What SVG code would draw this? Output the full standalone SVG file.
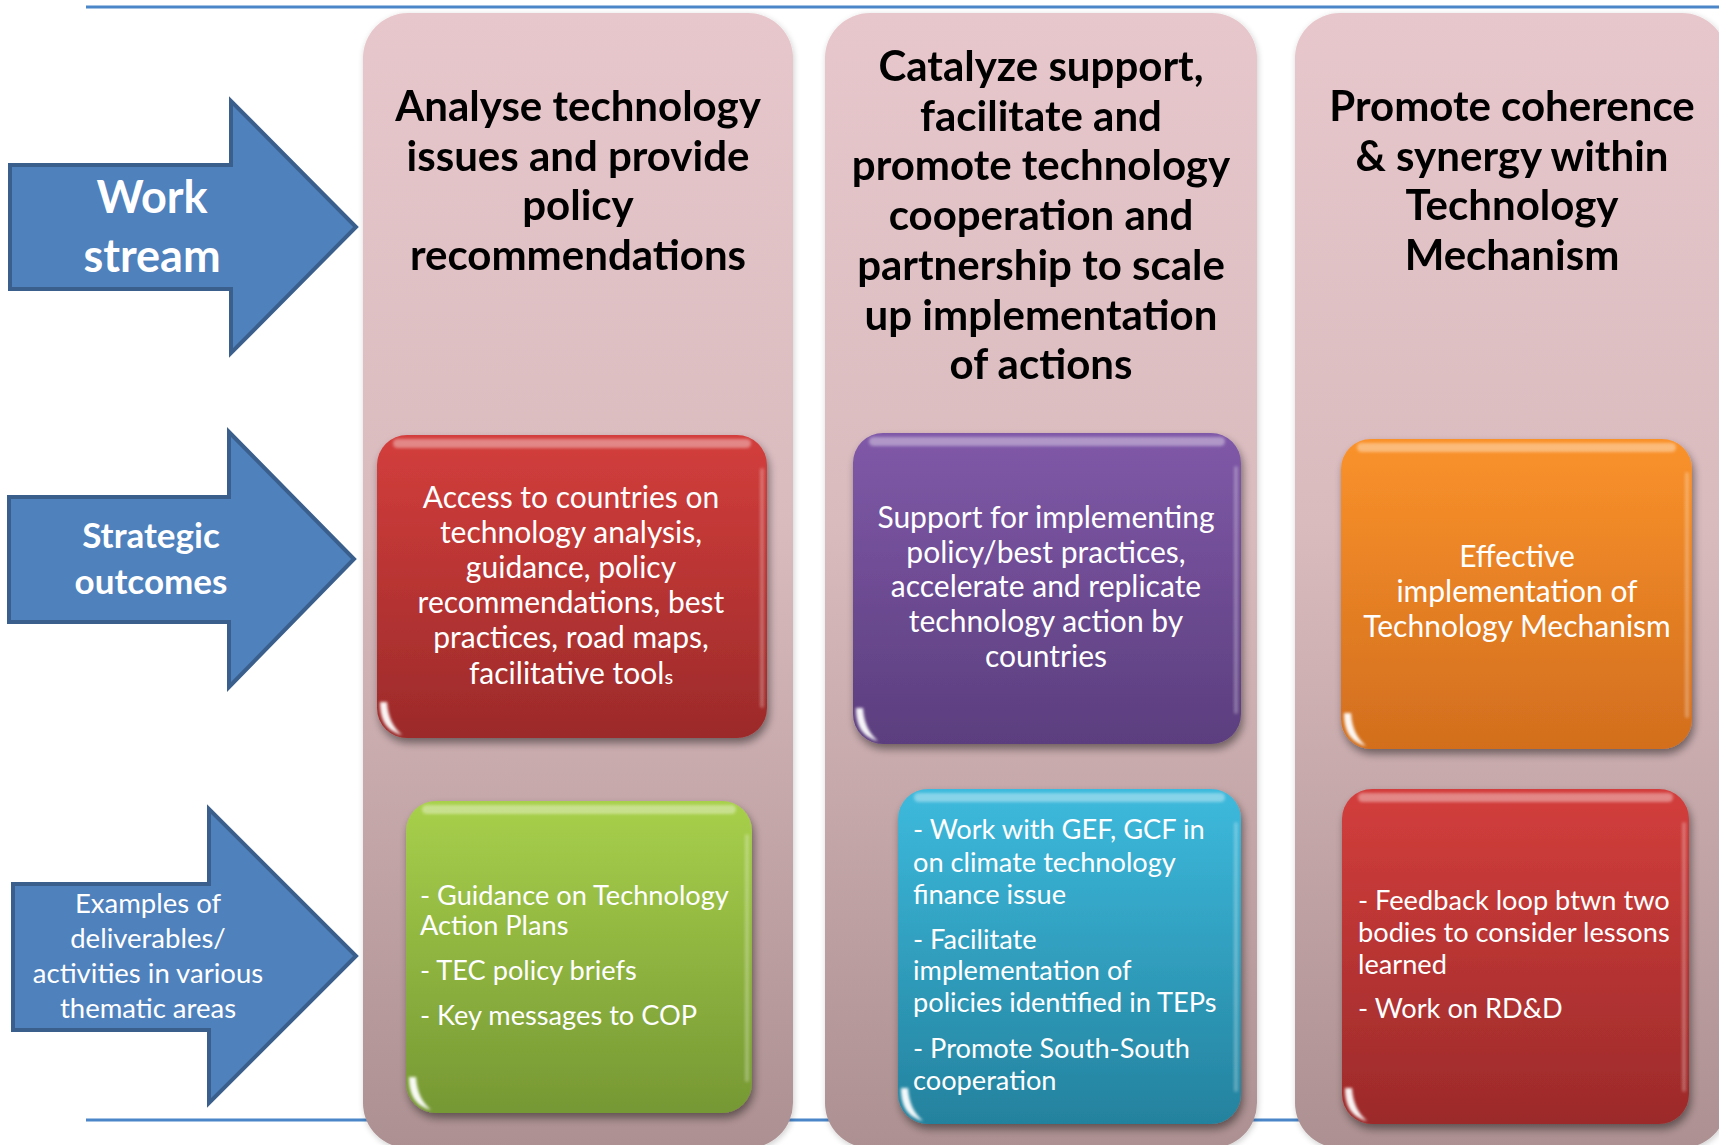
<svg xmlns="http://www.w3.org/2000/svg" xmlns:xlink="http://www.w3.org/1999/xlink" width="1719" height="1145" viewBox="0 0 1719 1145">
<style>
.hd{font-family:Lato,"Liberation Sans",sans-serif;font-weight:700;font-size:42px;fill:#000;text-anchor:middle}
.ar{font-family:Lato,"Liberation Sans",sans-serif;fill:#fff;text-anchor:middle}
.bx{font-family:Lato,"Liberation Sans",sans-serif;fill:#fff;font-size:30px}
.sm{font-size:27.2px}
.c{text-anchor:middle}
.arrow{fill:#4f81bd;stroke:#3a5f8c;stroke-width:4}
.col{fill:url(#colG)}
.gl{fill:#fff;opacity:0.95;filter:url(#bl)}
.tb{fill:#fff;opacity:0.38;filter:url(#bl)}
.re{fill:#fff;opacity:0.28;filter:url(#bl)}
.rule{stroke:#4a86c8;stroke-width:3}
</style>
<defs>
<linearGradient id="colG" x1="0" y1="0" x2="0" y2="1">
<stop offset="0" stop-color="#e7c7cb"/>
<stop offset="0.45" stop-color="#d9bbbe"/>
<stop offset="1" stop-color="#ad9091"/>
</linearGradient>
<linearGradient id="redG" x1="0" y1="0" x2="0" y2="1"><stop offset="0" stop-color="#d33e3c"/><stop offset="1" stop-color="#9c2a2a"/></linearGradient>
<linearGradient id="purG" x1="0" y1="0" x2="0" y2="1"><stop offset="0" stop-color="#8059a8"/><stop offset="1" stop-color="#5b3e7e"/></linearGradient>
<linearGradient id="oraG" x1="0" y1="0" x2="0" y2="1"><stop offset="0" stop-color="#fa922b"/><stop offset="1" stop-color="#d26e1e"/></linearGradient>
<linearGradient id="grnG" x1="0" y1="0" x2="0" y2="1"><stop offset="0" stop-color="#a8d04b"/><stop offset="1" stop-color="#769834"/></linearGradient>
<linearGradient id="cyaG" x1="0" y1="0" x2="0" y2="1"><stop offset="0" stop-color="#3dbadd"/><stop offset="1" stop-color="#24829e"/></linearGradient>
<filter id="sh" x="-10%" y="-10%" width="125%" height="125%">
<feGaussianBlur in="SourceAlpha" stdDeviation="4"/>
<feOffset dx="2" dy="5" result="b"/>
<feComponentTransfer><feFuncA type="linear" slope="0.45"/></feComponentTransfer>
<feMerge><feMergeNode/><feMergeNode in="SourceGraphic"/></feMerge>
</filter>
<filter id="csh" x="-5%" y="-5%" width="110%" height="110%">
<feGaussianBlur in="SourceAlpha" stdDeviation="3"/>
<feOffset dx="1" dy="2"/>
<feComponentTransfer><feFuncA type="linear" slope="0.2"/></feComponentTransfer>
<feMerge><feMergeNode/><feMergeNode in="SourceGraphic"/></feMerge>
</filter>
<filter id="bl" x="-50%" y="-50%" width="200%" height="200%"><feGaussianBlur stdDeviation="1.4"/></filter>
<path id="cres" d="M3,-36 C3,-17 10,-7 25,-3 C16,-11 11,-20 10,-36 Z"/>
</defs>

<g id="rules">
<line class="rule" x1="86" y1="7" x2="1719" y2="7"/>
<line class="rule" x1="86" y1="1120" x2="1719" y2="1120"/>
</g>

<g id="arrow-work-stream">
<path class="arrow" d="M10,165 H231 V101 L356,227 L231,353 V289 H10 Z"/>
<text class="ar" font-weight="700" font-size="45"><tspan x="152" y="213">Work</tspan><tspan x="152" y="272">stream</tspan></text>
</g>
<g id="arrow-strategic-outcomes">
<path class="arrow" d="M9,497 H229 V432 L354,559 L229,687 V622 H9 Z"/>
<text class="ar" font-weight="700" font-size="35"><tspan x="151" y="548">Strategic</tspan><tspan x="151" y="594">outcomes</tspan></text>
</g>
<g id="arrow-examples">
<path class="arrow" d="M13,884 H209 V809 L356,956 L209,1103 V1030 H13 Z"/>
<text class="ar" font-size="27.5"><tspan x="148" y="913">Examples of</tspan><tspan x="148" y="948">deliverables/</tspan><tspan x="148" y="983">activities in various</tspan><tspan x="148" y="1018">thematic areas</tspan></text>
</g>

<g id="col1" filter="url(#csh)">
<rect class="col" x="363" y="13" width="430" height="1135" rx="45"/>
<text class="hd"><tspan x="578" y="121">Analyse technology</tspan><tspan x="578" y="170.5">issues and provide</tspan><tspan x="578" y="220">policy</tspan><tspan x="578" y="269.5">recommendations</tspan></text>
</g>
<g id="col2" filter="url(#csh)">
<rect class="col" x="825" y="13" width="432" height="1135" rx="45"/>
<text class="hd"><tspan x="1041" y="81">Catalyze support,</tspan><tspan x="1041" y="130.7">facilitate and</tspan><tspan x="1041" y="180.4">promote technology</tspan><tspan x="1041" y="230">cooperation and</tspan><tspan x="1041" y="279.8">partnership to scale</tspan><tspan x="1041" y="329.5">up implementation</tspan><tspan x="1041" y="379">of actions</tspan></text>
</g>
<g id="col3" filter="url(#csh)">
<rect class="col" x="1295" y="13" width="432" height="1135" rx="45"/>
<text class="hd"><tspan x="1512" y="121">Promote coherence</tspan><tspan x="1512" y="170.5">&amp; synergy within</tspan><tspan x="1512" y="220">Technology</tspan><tspan x="1512" y="269.5">Mechanism</tspan></text>
</g>

<g id="box-access">
<rect x="377" y="435" width="390" height="303" rx="30" fill="url(#redG)" filter="url(#sh)"/>
<rect class="tb" x="393" y="439" width="358" height="9" rx="4.5"/>
<rect class="re" x="760" y="468" width="4" height="240" rx="2"/>
<use xlink:href="#cres" class="gl" x="377" y="738"/>
<text class="bx c"><tspan x="571" y="508">Access to countries on</tspan><tspan x="571" y="543">technology analysis,</tspan><tspan x="571" y="578">guidance, policy</tspan><tspan x="571" y="613">recommendations, best</tspan><tspan x="571" y="648">practices, road maps,</tspan><tspan x="571" y="683.5">facilitative tool<tspan font-size="20">s</tspan></tspan></text>
</g>
<g id="box-support">
<rect x="853" y="433" width="388" height="311" rx="30" fill="url(#purG)" filter="url(#sh)"/>
<rect class="tb" x="869" y="437" width="356" height="9" rx="4.5"/>
<rect class="re" x="1234" y="466" width="4" height="248" rx="2"/>
<use xlink:href="#cres" class="gl" x="853" y="744"/>
<text class="bx c"><tspan x="1046" y="528">Support for implementing</tspan><tspan x="1046" y="563">policy/best practices,</tspan><tspan x="1046" y="597">accelerate and replicate</tspan><tspan x="1046" y="632">technology action by</tspan><tspan x="1046" y="667">countries</tspan></text>
</g>
<g id="box-effective">
<rect x="1341" y="439" width="351" height="310" rx="30" fill="url(#oraG)" filter="url(#sh)"/>
<rect class="tb" x="1357" y="443" width="319" height="9" rx="4.5"/>
<rect class="re" x="1685" y="472" width="4" height="246" rx="2"/>
<use xlink:href="#cres" class="gl" x="1341" y="749"/>
<text class="bx c"><tspan x="1517" y="567">Effective</tspan><tspan x="1517" y="602">implementation of</tspan><tspan x="1517" y="637">Technology Mechanism</tspan></text>
</g>
<g id="box-guidance">
<rect x="406" y="801" width="346" height="312" rx="30" fill="url(#grnG)" filter="url(#sh)"/>
<rect class="tb" x="422" y="805" width="314" height="9" rx="4.5"/>
<rect class="re" x="745" y="834" width="4" height="248" rx="2"/>
<use xlink:href="#cres" class="gl" x="406" y="1113"/>
<text class="bx sm"><tspan x="420" y="905">- Guidance on Technology</tspan><tspan x="420" y="935">Action Plans</tspan><tspan x="420" y="980">- TEC policy briefs</tspan><tspan x="420" y="1025">- Key messages to COP</tspan></text>
</g>
<g id="box-gef">
<rect x="898" y="789" width="343" height="335" rx="30" fill="url(#cyaG)" filter="url(#sh)"/>
<rect class="tb" x="914" y="793" width="311" height="9" rx="4.5"/>
<rect class="re" x="1234" y="822" width="4" height="270" rx="2"/>
<use xlink:href="#cres" class="gl" x="898" y="1124"/>
<text class="bx sm"><tspan x="913" y="839">- Work with GEF, GCF in</tspan><tspan x="913" y="872">on climate technology</tspan><tspan x="913" y="904">finance issue</tspan><tspan x="913" y="949">- Facilitate</tspan><tspan x="913" y="980">implementation of</tspan><tspan x="913" y="1012">policies identified in TEPs</tspan><tspan x="913" y="1058">- Promote South-South</tspan><tspan x="913" y="1090">cooperation</tspan></text>
</g>
<g id="box-feedback">
<rect x="1342" y="789" width="347" height="335" rx="30" fill="url(#redG)" filter="url(#sh)"/>
<rect class="tb" x="1358" y="793" width="315" height="9" rx="4.5"/>
<rect class="re" x="1682" y="822" width="4" height="270" rx="2"/>
<use xlink:href="#cres" class="gl" x="1342" y="1124"/>
<text class="bx sm"><tspan x="1358" y="909.5">- Feedback loop btwn two</tspan><tspan x="1358" y="941.5">bodies to consider lessons</tspan><tspan x="1358" y="973.5">learned</tspan><tspan x="1358" y="1017.5">- Work on RD&amp;D</tspan></text>
</g>
</svg>
